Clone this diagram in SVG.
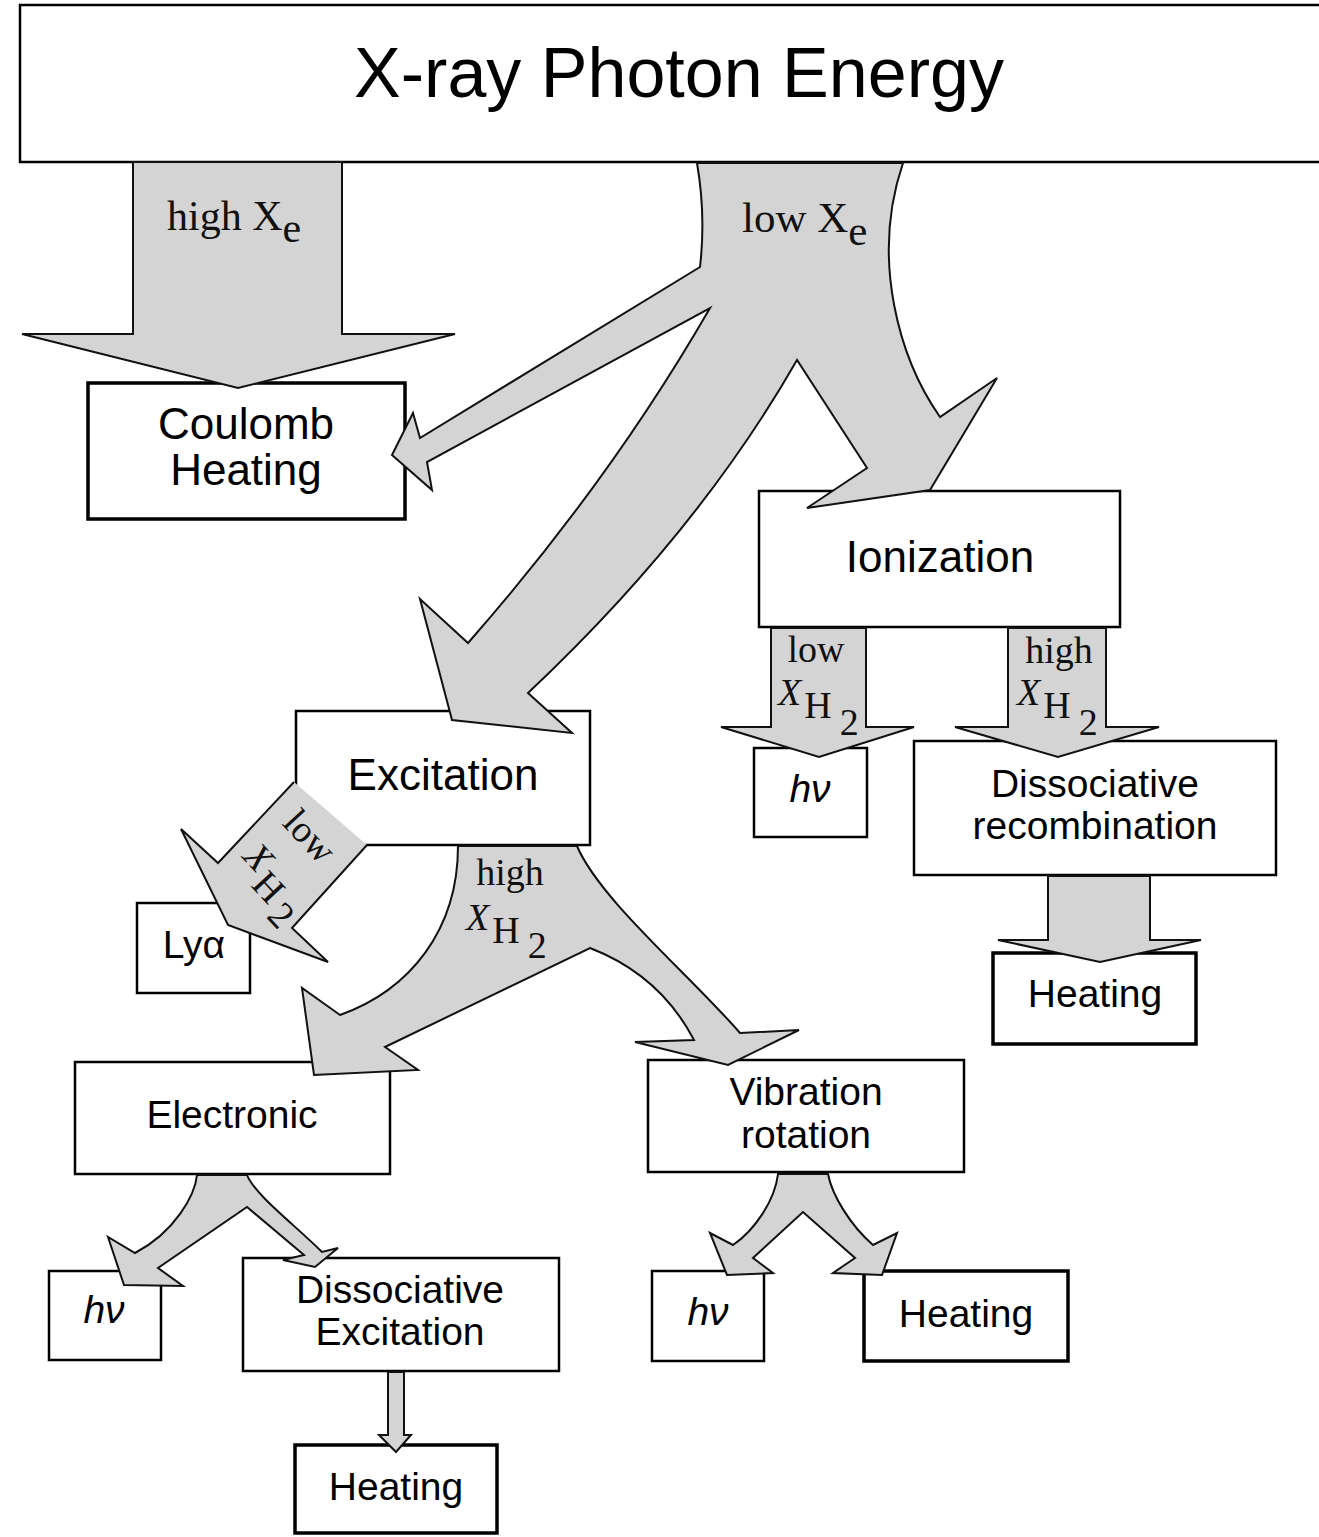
<svg xmlns="http://www.w3.org/2000/svg" width="1319" height="1537" viewBox="0 0 1319 1537">
  <style>
    .box{fill:#fff;stroke:#000;stroke-width:2.5}
    .heavy{stroke-width:3.5}
    .arr{fill:#d4d4d4;stroke:#111;stroke-width:2;stroke-linejoin:miter}
    .edge{fill:none;stroke:#111;stroke-width:2;stroke-linejoin:miter}
    .t{font-family:"Liberation Sans",Arial,Helvetica,sans-serif;font-size:39px;text-anchor:middle;fill:#000}
    .big{font-size:44px}
    .it{font-style:italic}
    .s{font-family:"Liberation Serif","Times New Roman",serif;font-size:42px;fill:#111}
    .s2{font-family:"Liberation Serif","Times New Roman",serif;font-size:38px;fill:#111}
  </style>
  <rect width="1319" height="1537" fill="#fff"/>

  <!-- boxes -->
  <g id="xray">
    <rect class="box" x="20" y="5" width="1320" height="157"/>
    <text class="t" x="679" y="97" style="font-size:70px">X-ray Photon Energy</text>
  </g>
  <g id="coulomb">
    <rect class="box heavy" x="88" y="383" width="317" height="136"/>
    <text class="t big" x="246" y="439">Coulomb</text>
    <text class="t big" x="246" y="485">Heating</text>
  </g>
  <g id="ionization">
    <rect class="box" x="759" y="491" width="361" height="136"/>
    <text class="t big" x="940" y="572">Ionization</text>
  </g>
  <g id="excitation">
    <rect class="box" x="296" y="711" width="294" height="134"/>
    <text class="t big" x="443" y="790">Excitation</text>
  </g>
  <g id="hv-ion">
    <rect class="box" x="754" y="748" width="113" height="89"/>
    <text class="t it" x="810" y="802">hν</text>
  </g>
  <g id="dissoc-recomb">
    <rect class="box" x="914" y="741" width="362" height="134"/>
    <text class="t" x="1095" y="797">Dissociative</text>
    <text class="t" x="1095" y="839">recombination</text>
  </g>
  <g id="heating-recomb">
    <rect class="box heavy" x="993" y="953" width="203" height="91"/>
    <text class="t" x="1095" y="1007">Heating</text>
  </g>
  <g id="lya">
    <rect class="box" x="137" y="903" width="113" height="90"/>
    <text class="t" x="194" y="958">Lyα</text>
  </g>
  <g id="electronic">
    <rect class="box" x="75" y="1062" width="315" height="112"/>
    <text class="t" x="232" y="1128">Electronic</text>
  </g>
  <g id="vibration">
    <rect class="box" x="648" y="1060" width="316" height="112"/>
    <text class="t" x="806" y="1105">Vibration</text>
    <text class="t" x="806" y="1148">rotation</text>
  </g>
  <g id="hv-elec">
    <rect class="box" x="49" y="1271" width="112" height="89"/>
    <text class="t it" x="104" y="1323">hν</text>
  </g>
  <g id="dissoc-exc">
    <rect class="box" x="243" y="1258" width="316" height="113"/>
    <text class="t" x="400" y="1303">Dissociative</text>
    <text class="t" x="400" y="1345">Excitation</text>
  </g>
  <g id="heating-exc">
    <rect class="box heavy" x="295" y="1445" width="202" height="88"/>
    <text class="t" x="396" y="1500">Heating</text>
  </g>
  <g id="hv-vib">
    <rect class="box" x="652" y="1271" width="112" height="90"/>
    <text class="t it" x="708" y="1325">hν</text>
  </g>
  <g id="heating-vib">
    <rect class="box heavy" x="864" y="1271" width="204" height="90"/>
    <text class="t" x="966" y="1327">Heating</text>
  </g>

  <!-- broad shaded flow arrows -->
  <g id="connectors">
    <!-- high Xe -> Coulomb heating -->
    <path class="arr" d="M133,162 L133,334 L22,334 L238,388 L455,334 L342,334 L342,162 Z"/>
    <!-- low Xe trunk splitting to Coulomb, Excitation and Ionization -->
    <path class="arr" d="M697,163 Q706,215 700,267 L420,438 L413,413 L392,455 L432,490 L427,462 L710,308 Q611,480 468,643 L420,599 L452,720 L572,733 L528,693 Q698,533 797,360 L867,468 L807,508 L930,490 L997,378 L940,417 C900,360 870,260 903,163 Z"/>
    <!-- Ionization -> hv / Dissociative recombination -->
    <path class="arr" d="M771,628 L771,727 L721,727 L819,757 L914,727 L866,727 L866,628 Z"/>
    <path class="arr" d="M1008,628 L1008,727 L955,727 L1058,757 L1159,727 L1106,727 L1106,628 Z"/>
    <!-- Dissociative recombination -> Heating -->
    <path class="arr" d="M1048,876 L1048,940 L998,940 L1100,962 L1201,940 L1150,940 L1150,876 Z"/>
    <!-- Excitation -> Ly alpha (low X_H2) -->
    <path d="M294,782 L218,863 L181,829 L228,925 L328,962 L292,928 L367,845 Z" fill="#d4d4d4" stroke="none"/>
    <path class="edge" d="M294,782 L218,863 L181,829 L228,925 L328,962 L292,928 L367,845"/>
    <!-- Excitation -> Electronic / Vibration (high X_H2) -->
    <path class="arr" d="M458,846 C458,930 410,990 340,1015 L302,988 L314,1075 L418,1070 L385,1047 L590,948 Q660,975 694,1040 L635,1042 L728,1065 L799,1030 L740,1033 C690,975 600,900 577,846 Z"/>
    <!-- Electronic -> hv / Dissociative excitation -->
    <path class="arr" d="M197,1175 C195,1195 175,1232 135,1253 L108,1237 L124,1285 L183,1286 L158,1268 L247,1207 L304,1255 L283,1260 L315,1267 L338,1248 L322,1252 C295,1225 255,1195 247,1175 Z"/>
    <!-- Dissociative excitation -> Heating -->
    <path class="arr" d="M388,1372 L388,1435 L379,1435 L396,1452 L411,1435 L404,1435 L404,1372 Z"/>
    <!-- Vibration rotation -> hv / Heating -->
    <path class="arr" d="M778,1174 C775,1200 755,1230 733,1245 L710,1233 L727,1275 L773,1273 L753,1258 L803,1212 L855,1258 L833,1273 L882,1275 L897,1233 L873,1245 C850,1225 832,1195 828,1174 Z"/>

    <!-- arrow labels -->
    <text class="s" x="167" y="230">high X<tspan dy="12">e</tspan></text>
    <text class="s" x="742" y="232" style="font-size:43px">low X<tspan dy="13">e</tspan></text>

    <text class="s2" x="816" y="662" text-anchor="middle">low</text>
    <text class="s2" x="778" y="705"><tspan class="it">X</tspan><tspan dx="3" dy="13">H</tspan><tspan dx="8" dy="17">2</tspan></text>

    <text class="s2" x="1059" y="663" text-anchor="middle">high</text>
    <text class="s2" x="1017" y="705"><tspan class="it">X</tspan><tspan dx="3" dy="13">H</tspan><tspan dx="8" dy="17">2</tspan></text>

    <text class="s2" x="510" y="885" text-anchor="middle">high</text>
    <text class="s2" x="466" y="930"><tspan class="it">X</tspan><tspan dx="3" dy="13">H</tspan><tspan dx="8" dy="15">2</tspan></text>

    <g transform="translate(308,838) rotate(47)">
      <text class="s2" x="0" y="10" text-anchor="middle">low</text>
      <text class="s2" x="-31" y="62"><tspan class="it">X</tspan><tspan dx="3" dy="13">H</tspan><tspan dx="6" dy="10">2</tspan></text>
    </g>
  </g>
</svg>
